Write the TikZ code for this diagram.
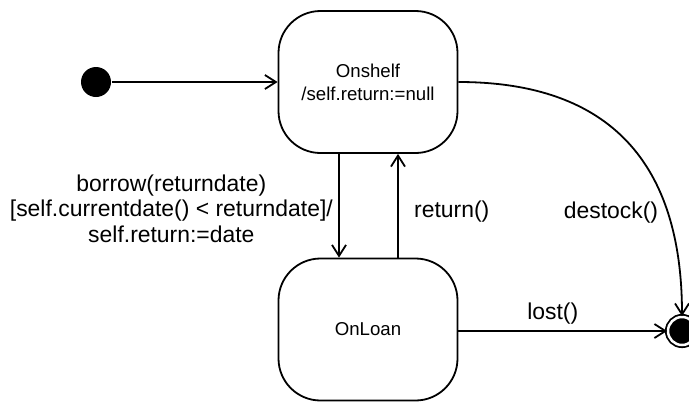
\documentclass[tikz,border=0pt]{standalone}
\usepackage{fontspec}
\setmainfont{Liberation Sans}
\usetikzlibrary{arrows.meta}

\tikzset{
  state/.style={draw, line width=1.8bp, rounded corners=42bp,
    minimum width=179bp, minimum height=142bp, align=center,
    font=\fontsize{18.7}{23}\selectfont},
  init/.style={circle, fill=black, minimum size=30bp, inner sep=0pt},
  final/.style={circle, draw, line width=1.8bp, fill=black,
    double=white, double distance=2.5bp, minimum size=28bp, inner sep=0pt},
  lbl/.style={font=\fontsize{23}{25.5}\selectfont, align=center}
}

\begin{document}
\begin{tikzpicture}[x=1bp, y=-1bp, line width=1.8bp,
    ->, >={Straight Barb[length=11bp, width=14bp]}]
    \useasboundingbox (0, 0) rectangle (689, 401);
    \path
    (96, 82) node[init] (start) {}
    (368, 82) node[state] (shelf) {Onshelf\\/self.return:=null}
    (368, 329.5) node[state] (loan) {OnLoan}
    (682, 331) node[final] (end) {};
    \draw (start) -- (shelf);
    \draw
    ([xshift=-29bp]shelf.south) -- ([xshift=-29bp]loan.north)
    node[lbl, midway, left, xshift=-2bp, yshift=-3bp]
    {borrow(returndate)\\\relax[self.currentdate() < returndate]/\\self.return:=date};
    \draw
    ([xshift=30bp]loan.north) -- ([xshift=30bp]shelf.south)
    node[lbl, midway, right=12bp, yshift=-6bp] {return()};
    \draw
    (shelf.east) to[out=0, in=90, looseness=1.2] (end.north);
    \path (611, 213) node[lbl] (dlbl) {destock()};
    \draw
    (loan.east |- end) -- (end)
    node[lbl, midway, above, xshift=-10bp, yshift=3bp] {lost()};
\end{tikzpicture}
\end{document}
